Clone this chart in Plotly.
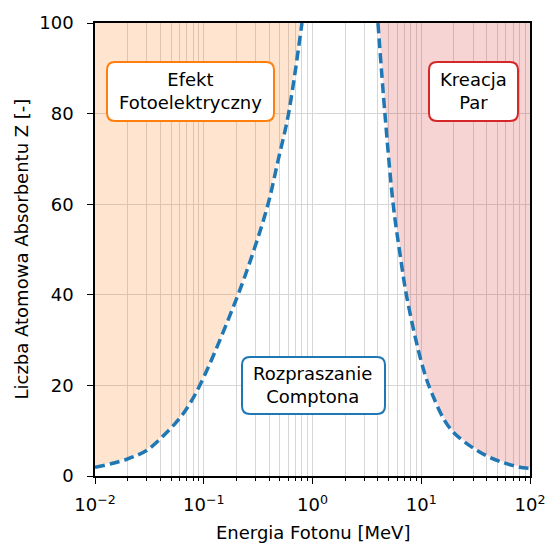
import math
import plotly.graph_objects as go

# Boundary where the photoelectric effect and Compton scattering are equally likely
photo_E = [0.01, 0.0196, 0.03, 0.0456, 0.0649, 0.0924, 0.2035, 0.296, 0.392, 0.484,
           0.599, 0.8]
photo_Z = [1.9, 3.7, 5.7, 9.6, 13.8, 20.1, 39.6, 50.6, 60.2, 69.8, 79.7, 100.0]

# Boundary where Compton scattering and pair production are equally likely
pair_E = [4.0, 4.64, 5.53, 6.38, 7.35, 10.1, 12.5, 18.4, 32.3, 53.0, 86.7, 100.0]
pair_Z = [100.0, 79.8, 59.8, 49.0, 39.6, 24.9, 18.3, 10.5, 5.7, 3.2, 1.8, 1.7]

Z_MAX = 100

x_tickvals = [0.01, 0.1, 1, 10, 100]
x_ticktext = ["10<sup>\u22122</sup>", "10<sup>\u22121</sup>", "10<sup>0</sup>",
              "10<sup>1</sup>", "10<sup>2</sup>"]
y_tickvals = [0, 20, 40, 60, 80, 100]

region_labels = ["Efekt<br>Fotoelektryczny", "Kreacja<br>Par", "Rozpraszanie<br>Comptona"]
region_E = [0.075, 30, 1.0]
region_Z = [85, 85, 20]
region_colors = ["#ff7f0e", "#d62728", "#1f77b4"]

BLUE = "#1f77b4"
FONT = "DejaVu Sans"
FS = 18

fig = go.Figure()

# upper edge of the shaded photoelectric region
fig.add_trace(go.Scatter(x=photo_E, y=[Z_MAX] * len(photo_E), mode="lines",
                         line=dict(width=0), hoverinfo="skip", showlegend=False))
fig.add_trace(go.Scatter(x=photo_E, y=photo_Z, mode="lines", fill="tonexty",
                         fillcolor="rgba(255,127,14,0.2)",
                         line=dict(width=0, shape="spline"),
                         hoverinfo="skip", showlegend=False))

# upper edge of the shaded pair-production region
fig.add_trace(go.Scatter(x=pair_E, y=[Z_MAX] * len(pair_E), mode="lines",
                         line=dict(width=0), hoverinfo="skip", showlegend=False))
fig.add_trace(go.Scatter(x=pair_E, y=pair_Z, mode="lines", fill="tonexty",
                         fillcolor="rgba(214,39,40,0.2)",
                         line=dict(width=0, shape="spline"),
                         hoverinfo="skip", showlegend=False))

# dashed boundary curves on a pale underlay
for xs, ys in ((photo_E, photo_Z), (pair_E, pair_Z)):
    fig.add_trace(go.Scatter(x=xs, y=ys, mode="lines",
                             line=dict(color="rgba(255,255,255,0.6)", width=2.5,
                                       shape="spline"),
                             hoverinfo="skip", showlegend=False))
    fig.add_trace(go.Scatter(x=xs, y=ys, mode="lines",
                             line=dict(color=BLUE, width=3.5, dash="10px,5px",
                                       shape="spline"),
                             showlegend=False))

# region labels (annotation x on a log axis is given as log10)
for text, ex, zz in zip(region_labels, region_E, region_Z):
    fig.add_annotation(x=math.log10(ex), y=zz, xref="x", yref="y", text=text,
                       showarrow=False, align="center",
                       font=dict(family=FONT, size=FS, color="black"))

# rounded frames around labels (paper coordinates of the plot area)
L, R, T, B = 95, 530, 23, 476
W, H = R - L, B - T


def rounded_box(x0, y0, x1, y1, r=8):
    def px(x):
        return (x - L) / W

    def py(y):
        return (B - y) / H
    return (f"M {px(x0 + r)},{py(y0)} L {px(x1 - r)},{py(y0)} "
            f"Q {px(x1)},{py(y0)} {px(x1)},{py(y0 + r)} "
            f"L {px(x1)},{py(y1 - r)} Q {px(x1)},{py(y1)} {px(x1 - r)},{py(y1)} "
            f"L {px(x0 + r)},{py(y1)} Q {px(x0)},{py(y1)} {px(x0)},{py(y1 - r)} "
            f"L {px(x0)},{py(y0 + r)} Q {px(x0)},{py(y0)} {px(x0 + r)},{py(y0)} Z")


boxes = [(107, 62, 274, 121), (429, 62, 518, 121), (242, 357, 385, 414)]
for (x0, y0, x1, y1), col in zip(boxes, region_colors):
    fig.add_shape(type="path", path=rounded_box(x0, y0, x1, y1), xref="paper",
                  yref="paper", line=dict(color=col, width=2),
                  fillcolor="white", layer="above")

# axis titles
fig.add_annotation(x=0.5, y=(B - 532) / H, xref="paper", yref="paper",
                   xanchor="center", yanchor="middle",
                   text="Energia Fotonu [MeV]", showarrow=False,
                   font=dict(family=FONT, size=FS, color="black"))
fig.add_annotation(x=(21 - L) / W, y=0.5, xref="paper", yref="paper",
                   xanchor="center", yanchor="middle",
                   text="Liczba Atomowa Absorbentu Z [-]", showarrow=False,
                   textangle=-90, font=dict(family=FONT, size=FS, color="black"))

fig.update_xaxes(type="log", range=[-2, 2], tickvals=x_tickvals, ticktext=x_ticktext,
                 ticks="outside", ticklen=6, tickwidth=1.2, tickcolor="black",
                 showline=True, linecolor="black", linewidth=1.5, mirror=True,
                 showgrid=True, gridcolor="#d6d6d6", gridwidth=1,
                 minor=dict(dtick="D1", ticks="outside", ticklen=3.5, tickcolor="black",
                            showgrid=True, gridcolor="#d6d6d6", gridwidth=1),
                 tickfont=dict(family=FONT, size=FS, color="black"),
                 ticklabelstandoff=6, ticklabeloverflow="allow",
                 automargin=False, zeroline=False)
fig.update_yaxes(range=[0, 100], tickvals=y_tickvals,
                 ticks="outside", ticklen=6, tickwidth=1.2, tickcolor="black",
                 showline=True, linecolor="black", linewidth=1.5, mirror=True,
                 showgrid=True, gridcolor="#d6d6d6", gridwidth=1,
                 tickfont=dict(family=FONT, size=FS, color="black"),
                 ticklabelstandoff=10, ticklabeloverflow="allow",
                 automargin=False, zeroline=False)

fig.update_layout(width=545, height=545, plot_bgcolor="white", paper_bgcolor="white",
                  margin=dict(l=L, r=545 - R, t=T, b=545 - B), showlegend=False,
                  font=dict(family=FONT))

fig.write_html("out.html")
